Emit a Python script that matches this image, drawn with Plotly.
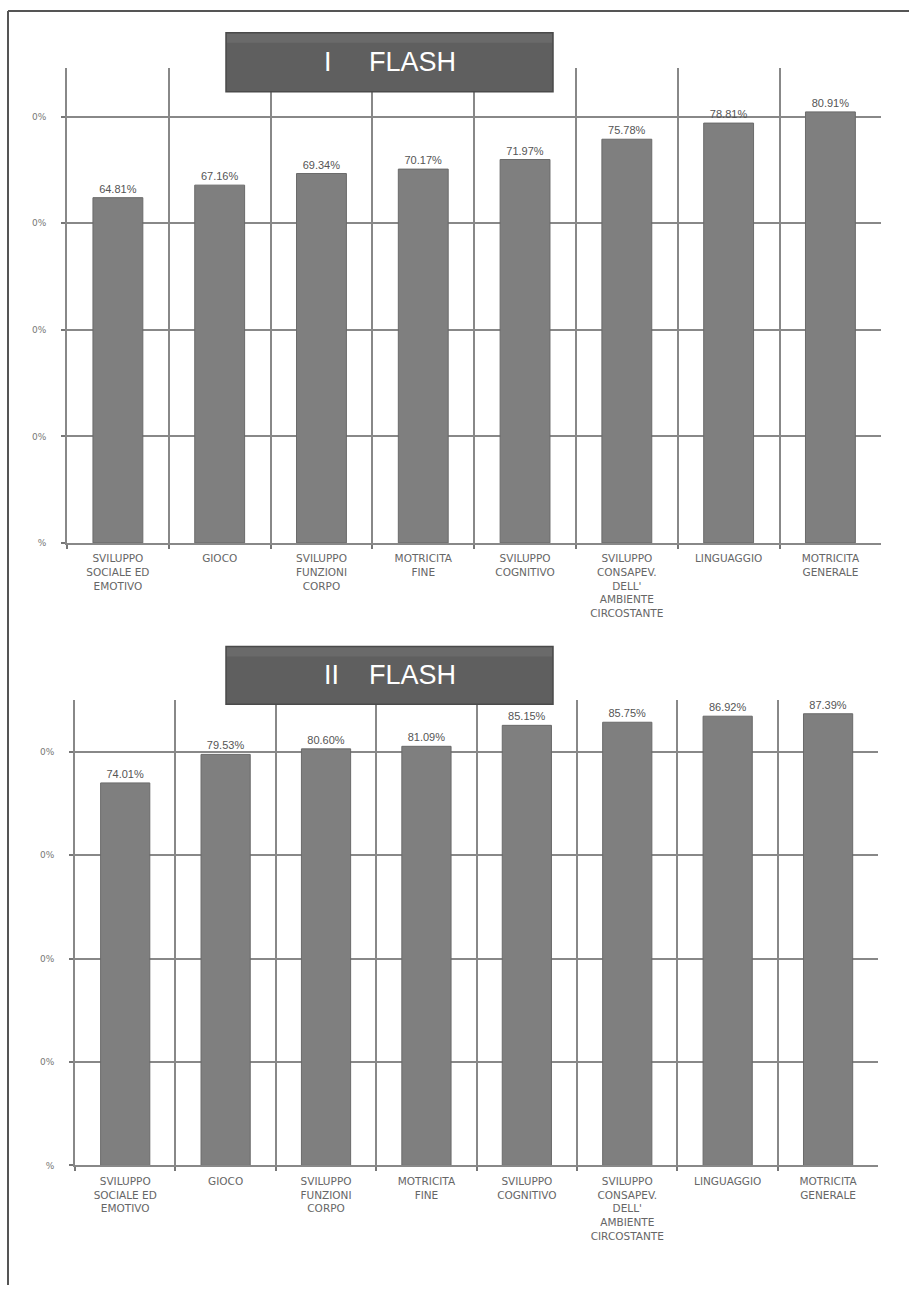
import plotly.graph_objects as go

categories = [
    "SVILUPPO<br>SOCIALE ED<br>EMOTIVO",
    "GIOCO",
    "SVILUPPO<br>FUNZIONI<br>CORPO",
    "MOTRICITA<br>FINE",
    "SVILUPPO<br>COGNITIVO",
    "SVILUPPO<br>CONSAPEV.<br>DELL'<br>AMBIENTE<br>CIRCOSTANTE",
    "LINGUAGGIO",
    "MOTRICITA<br>GENERALE",
]
flash1_values = [64.81, 67.16, 69.34, 70.17, 71.97, 75.78, 78.81, 80.91]
flash2_values = [74.01, 79.53, 80.60, 81.09, 85.15, 85.75, 86.92, 87.39]
titles = ["I&nbsp;&nbsp;&nbsp;&nbsp;&nbsp;FLASH", "II&nbsp;&nbsp;&nbsp;&nbsp;FLASH"]
ytick_vals = [0, 20, 40, 60, 80]
ytick_text = ["%", "0%", "0%", "0%", "0%"]

W, H = 909, 1290
BAR = "#7f7f7f"
GRID = "#888888"


def px_x(a, b):
    return [a / W, b / W]


def px_y(top, bottom):
    return [1 - bottom / H, 1 - top / H]


fig = go.Figure()

panels = [
    dict(vals=flash1_values, xd=px_x(67, 881), yd=px_y(68, 545), ymax=89.2,
         box=(226, 33, 553, 92), ax=""),
    dict(vals=flash2_values, xd=px_x(75, 878), yd=px_y(703, 1170), ymax=90.0,
         box=(226, 649, 553, 707), ax="2"),
]

for i, p in enumerate(panels):
    fig.add_trace(go.Bar(
        x=categories, y=p["vals"],
        xaxis="x" + p["ax"], yaxis="y" + p["ax"],
        marker=dict(color=BAR, line=dict(color="#6a6a6a", width=1)),
        width=0.49,
        text=[f"{v:.2f}%" for v in p["vals"]],
        textposition="outside",
        textfont=dict(family="Liberation Sans, Arial", size=11, color="#555555"),
        cliponaxis=False,
        showlegend=False,
    ))
    xa = dict(
        domain=p["xd"], type="category", tickson="boundaries",
        range=[-0.5, 7.497],
        showgrid=True, gridcolor=GRID, gridwidth=1.5,
        showline=True, linecolor=GRID, linewidth=2,
        ticks="outside", ticklen=4, tickcolor="#777777", tickwidth=1.5,
        tickfont=dict(family="DejaVu Sans", size=10.5, color="#666666"),
        ticklabelstandoff=5,
        tickangle=0, anchor="y" + p["ax"], fixedrange=True,
    )
    ya = dict(
        domain=p["yd"], range=[0, p["ymax"]],
        tickvals=ytick_vals, ticktext=ytick_text,
        showgrid=True, gridcolor=GRID, gridwidth=2,
        showline=True, linecolor=GRID, linewidth=2, zeroline=False,
        ticks="outside", ticklen=4, tickcolor="#777777", tickwidth=1.5,
        tickfont=dict(family="DejaVu Sans", size=9, color="#777777"),
        ticklabelstandoff=13,
        anchor="x" + p["ax"], fixedrange=True,
    )
    if i == 0:
        fig.update_layout(xaxis=xa, yaxis=ya)
    else:
        fig.update_layout(xaxis2=xa, yaxis2=ya)

    x0, y0, x1, y1 = p["box"]
    fig.add_shape(type="rect", xref="paper", yref="paper",
                  x0=x0 / W, x1=x1 / W, y0=1 - y1 / H, y1=1 - y0 / H,
                  fillcolor="#5f5f5f", line=dict(color="#4a4a4a", width=1.5),
                  layer="above")
    fig.add_shape(type="rect", xref="paper", yref="paper",
                  x0=x0 / W + 0.001, x1=x1 / W - 0.001,
                  y0=1 - (y0 + 10) / H, y1=1 - (y0 + 1) / H,
                  fillcolor="#6a6a6a", line=dict(width=0), layer="above")
    fig.add_annotation(xref="paper", yref="paper",
                       x=(x0 + x1) / 2 / W, y=1 - (y0 + y1) / 2 / H,
                       text=titles[i], showarrow=False,
                       xanchor="center", yanchor="middle",
                       font=dict(family="Liberation Sans, Arial", size=27, color="white"))

# page frame
fig.add_shape(type="line", xref="paper", yref="paper",
              x0=8 / W, x1=1, y0=1 - 11 / H, y1=1 - 11 / H,
              line=dict(color="#555555", width=2))
fig.add_shape(type="line", xref="paper", yref="paper",
              x0=8 / W, x1=8 / W, y0=0, y1=1 - 11 / H,
              line=dict(color="#555555", width=2))

fig.update_layout(
    width=W, height=H,
    margin=dict(l=0, r=0, t=0, b=0),
    paper_bgcolor="white", plot_bgcolor="white",
    bargap=0.5,
)

fig.write_html(
    "out.html",
    config={"displayModeBar": False},
    post_script="document.body.style.margin='0';document.body.style.overflow='hidden';",
)
